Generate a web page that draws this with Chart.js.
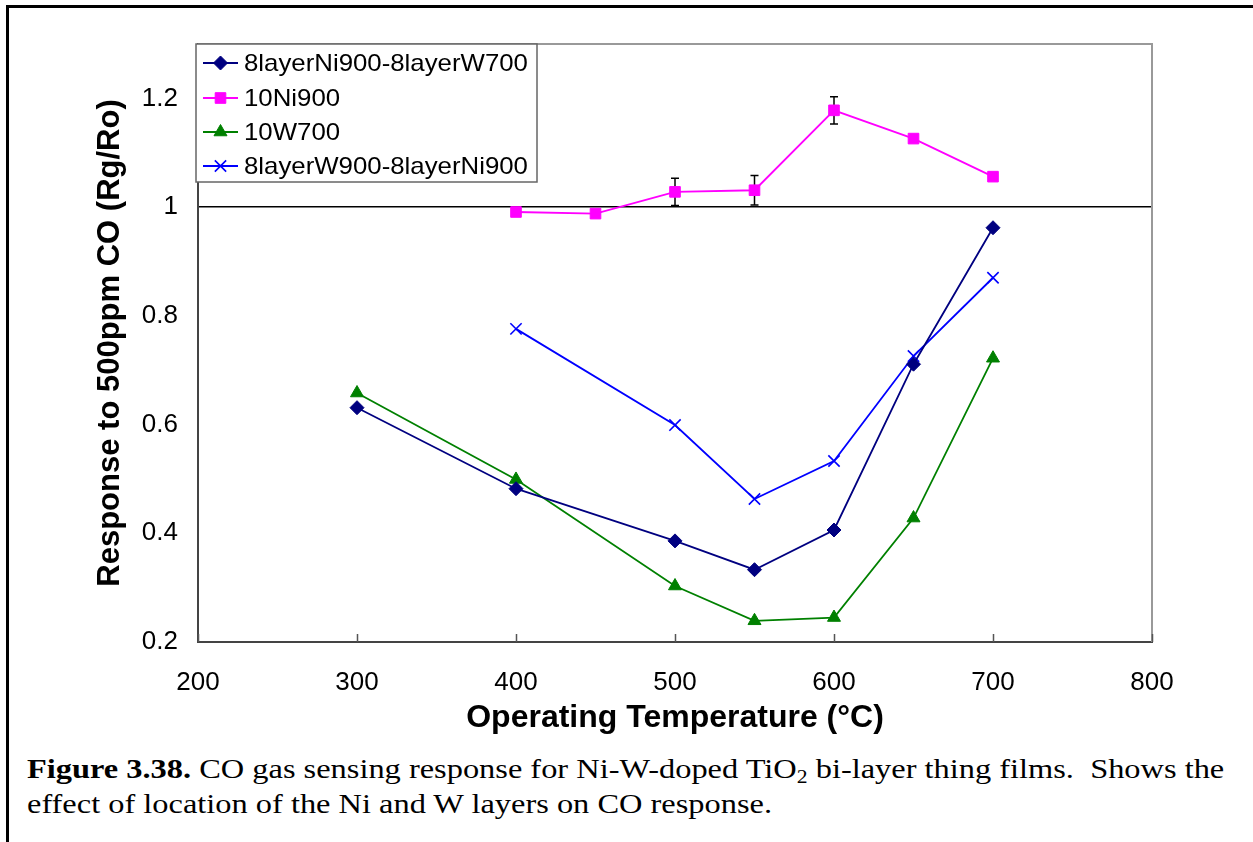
<!DOCTYPE html>
<html>
<head>
<meta charset="utf-8">
<script src="https://cdn.jsdelivr.net/npm/chart.js@4.4.1/dist/chart.umd.min.js"></script>
<style>
  html, body { margin: 0; padding: 0; background: #fff; }
  body { width: 1253px; height: 842px; position: relative; overflow: hidden; }
  .frame {
    position: absolute; left: 6px; top: 5px; right: 0; bottom: 0;
    border-top: 3px solid #000; border-left: 3px solid #000;
  }
  .plot { position: absolute; left: 0; top: 0; width: 1253px; height: 745px; }
  .caption {
    position: absolute; left: 27px; top: 752px;
    font-family: "Liberation Serif", "Times New Roman", serif;
    font-size: 27px; line-height: 35px; color: #000; white-space: nowrap;
    transform: scaleX(1.2); transform-origin: 0 0;
  }
  .caption b { font-weight: bold; }
  .caption sub { font-size: 18px; vertical-align: -5px; line-height: 0; }
</style>
</head>
<body>
<div class="frame"></div>
<div class="plot"><canvas id="chart" width="1253" height="745"></canvas></div>
<div class="caption">
  <b>Figure 3.38.</b> CO gas sensing response for Ni-W-doped TiO<sub>2</sub> bi-layer thing films.&nbsp; Shows the<br>
  effect of location of the Ni and W layers on CO response.
</div>

<script>
// Operating temperature (°C) and response Rg/Ro for each film
const labels = ['8layerNi900-8layerW700', '10Ni900', '10W700', '8layerW900-8layerNi900'];

const niwTemps = [300, 400, 500, 550, 600, 650, 700];
const niwResp = [0.631, 0.482, 0.386, 0.333, 0.406, 0.711, 0.962];

const niTemps = [400, 450, 500, 550, 600, 650, 700];
const niResp = [0.991, 0.988, 1.028, 1.031, 1.178, 1.126, 1.056];
const niErr = [0, 0, 0.025, 0.027, 0.025, 0, 0];

const wTemps = [300, 400, 500, 550, 600, 650, 700];
const wResp = [0.658, 0.499, 0.303, 0.239, 0.245, 0.428, 0.722];

const wniTemps = [400, 500, 550, 600, 650, 700];
const wniResp = [0.776, 0.599, 0.463, 0.533, 0.726, 0.870];

const xTicks = [200, 300, 400, 500, 600, 700, 800];
const yTicks = [0.2, 0.4, 0.6, 0.8, 1, 1.2];

function pts(xs, ys) {
    return xs.map((x, i) => ({ x: x, y: ys[i] }));
}

Chart.defaults.font.family = '"Liberation Sans", Arial, sans-serif';
Chart.defaults.color = '#000';

// error bars on the 10Ni900 series
const errorBars = {
    id: 'errorBars',
    beforeDatasetsDraw(chart) {
        const ctx = chart.ctx;
        const y = chart.scales.y;
        const meta = chart.getDatasetMeta(1);
        ctx.save();
        ctx.strokeStyle = '#000';
        ctx.lineWidth = 1.5;
        meta.data.forEach((pt, i) => {
            const e = niErr[i];
            if (!e) return;
            const top = y.getPixelForValue(niResp[i] + e);
            const bot = y.getPixelForValue(niResp[i] - e);
            ctx.beginPath();
            ctx.moveTo(pt.x, top); ctx.lineTo(pt.x, bot);
            ctx.moveTo(pt.x - 4, top); ctx.lineTo(pt.x + 4, top);
            ctx.moveTo(pt.x - 4, bot); ctx.lineTo(pt.x + 4, bot);
            ctx.stroke();
        });
        ctx.restore();
    }
};

// plot frame, inward x ticks and the boxed legend
const frameAndLegend = {
    id: 'frameAndLegend',
    afterDraw(chart) {
        const ctx = chart.ctx;
        const a = chart.chartArea;
        const xs = chart.scales.x;
        ctx.save();

        ctx.strokeStyle = '#999';
        ctx.lineWidth = 2;
        ctx.beginPath();
        ctx.moveTo(a.left, a.top); ctx.lineTo(a.right, a.top); ctx.lineTo(a.right, a.bottom);
        ctx.stroke();

        ctx.strokeStyle = '#555';
        ctx.lineWidth = 1.5;
        ctx.beginPath();
        xTicks.forEach(t => {
            const px = Math.round(xs.getPixelForValue(t)) + 0.5;
            ctx.moveTo(px, a.bottom); ctx.lineTo(px, a.bottom - 8);
        });
        ctx.stroke();

        // legend box
        const lx = a.left - 2, ly = a.top;
        ctx.fillStyle = '#fff';
        ctx.fillRect(lx, ly, 341, 138);
        ctx.strokeStyle = '#666';
        ctx.lineWidth = 1.5;
        ctx.strokeRect(lx, ly, 341, 138);

        const rows = [19, 54, 88, 122];
        ctx.font = '24px "Liberation Sans", Arial, sans-serif';
        ctx.textBaseline = 'middle';
        chart.data.datasets.forEach((ds, i) => {
            const cy = ly + rows[i];
            ctx.strokeStyle = ds.borderColor;
            ctx.fillStyle = ds.backgroundColor;
            ctx.lineWidth = ds.borderWidth;
            ctx.beginPath();
            ctx.moveTo(lx + 7, cy); ctx.lineTo(lx + 42, cy);
            ctx.stroke();
            ctx.lineWidth = ds.pointBorderWidth;
            Chart.helpers.drawPoint(ctx, {
                pointStyle: ds.pointStyle, radius: ds.pointRadius,
                rotation: 0, borderWidth: ds.pointBorderWidth
            }, lx + 24.5, cy);
            ctx.save();
            ctx.translate(lx + 48, cy + 1);
            ctx.scale(1.075, 1);
            ctx.fillStyle = '#000';
            ctx.fillText(ds.label, 0, 0);
            ctx.restore();
        });
        ctx.restore();
    }
};

const chart = new Chart(document.getElementById('chart'), {
    type: 'line',
    data: {
        datasets: [{
            label: labels[0],
            data: pts(niwTemps, niwResp),
            borderColor: '#000080', backgroundColor: '#000080',
            borderWidth: 1.8, pointStyle: 'rectRot', pointRadius: 7, pointBorderWidth: 1
        }, {
            label: labels[1],
            data: pts(niTemps, niResp),
            borderColor: '#ff00ff', backgroundColor: '#ff00ff',
            borderWidth: 1.8, pointStyle: 'rect', pointRadius: 7.5, pointBorderWidth: 1
        }, {
            label: labels[2],
            data: pts(wTemps, wResp),
            borderColor: '#008000', backgroundColor: '#008000',
            borderWidth: 1.8, pointStyle: 'triangle', pointRadius: 7.5, pointBorderWidth: 1
        }, {
            label: labels[3],
            data: pts(wniTemps, wniResp),
            borderColor: '#0000ff', backgroundColor: '#0000ff',
            borderWidth: 1.8, pointStyle: 'crossRot', pointRadius: 8, pointBorderWidth: 1.6
        }]
    },
    options: {
        responsive: false,
        animation: false,
        layout: { padding: { left: 0, top: 44, right: 101, bottom: 0 } },
        plugins: { legend: { display: false }, tooltip: { enabled: false } },
        elements: { line: { tension: 0 } },
        scales: {
            x: {
                type: 'linear', min: 200, max: 800,
                afterBuildTicks: s => { s.ticks = xTicks.map(v => ({ value: v })); },
                afterFit: s => { s.height = 103; },
                grid: { display: false, drawTicks: false },
                border: { display: true, color: '#444', width: 2 },
                ticks: { padding: 25, font: { size: 26 }, color: '#000' },
                title: {
                    display: true, text: 'Operating Temperature (°C)',
                    font: { size: 32, weight: 'bold' }, color: '#000',
                    padding: { top: 0, bottom: 8 }
                }
            },
            y: {
                min: 0.2, max: 1.3,
                afterBuildTicks: s => { s.ticks = yTicks.map(v => ({ value: v })); },
                afterFit: s => { s.width = 198; },
                grid: {
                    drawTicks: false,
                    color: c => (c.tick && c.tick.value === 1 ? '#000' : 'rgba(0,0,0,0)'),
                    lineWidth: 1.5
                },
                border: { display: true, color: '#444', width: 2 },
                ticks: {
                    padding: 20, font: { size: 26 }, color: '#000',
                    callback: v => String(Math.round(v * 10) / 10)
                },
                title: {
                    display: true, text: 'Response to 500ppm CO (Rg/Ro)',
                    font: { size: 31, weight: 'bold' }, color: '#000',
                    padding: { top: 92, bottom: 0 }
                }
            }
        }
    },
    plugins: [errorBars, frameAndLegend]
});
</script>
</body>
</html>
